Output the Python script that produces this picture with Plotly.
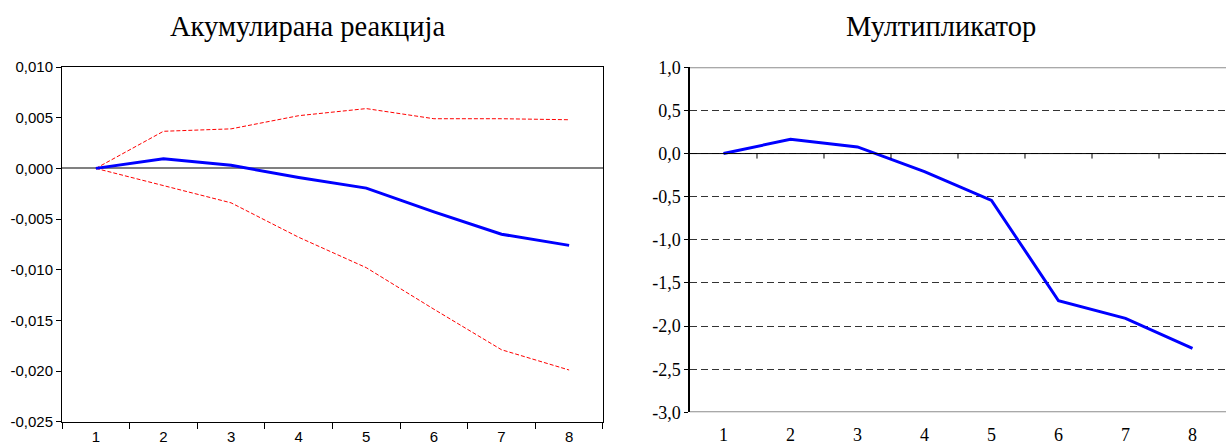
import plotly.graph_objects as go

# Horizon (periods)
periods = ["1", "2", "3", "4", "5", "6", "7", "8"]

# Accumulated response with confidence bands
response = [0.0, 0.00096, 0.0003, -0.0009, -0.00195, -0.0043, -0.0065, -0.0076]
upper_band = [0.0, 0.00366, 0.0039, 0.0052, 0.0059, 0.0049, 0.0049, 0.0048]
lower_band = [0.0, -0.00168, -0.0034, -0.0068, -0.0098, -0.0139, -0.0179, -0.0199]

# Multiplier
multiplier = [0.0, 0.166, 0.077, -0.21, -0.543, -1.706, -1.91, -2.26]

left_yvals = [0.010, 0.005, 0.0, -0.005, -0.010, -0.015, -0.020, -0.025]
left_ylabels = ["0,010", "0,005", "0,000", "-0,005", "-0,010", "-0,015", "-0,020", "-0,025"]
right_yvals = [1.0, 0.5, 0.0, -0.5, -1.0, -1.5, -2.0, -2.5, -3.0]
right_ylabels = ["1,0", "0,5", "0,0", "-0,5", "-1,0", "-1,5", "-2,0", "-2,5", "-3,0"]

titles = ["Акумулирана реакција", "Мултипликатор"]

x_num = list(range(1, len(periods) + 1))

fig = go.Figure()

fig.add_trace(go.Scatter(x=periods, y=upper_band, mode="lines",
                         line=dict(color="#ff0000", width=1, dash="4px,2px"),
                         xaxis="x", yaxis="y", showlegend=False))
fig.add_trace(go.Scatter(x=periods, y=lower_band, mode="lines",
                         line=dict(color="#ff0000", width=1, dash="4px,2px"),
                         xaxis="x", yaxis="y", showlegend=False))
fig.add_trace(go.Scatter(x=periods, y=response, mode="lines",
                         line=dict(color="#0000ff", width=3),
                         xaxis="x", yaxis="y", showlegend=False))

fig.add_trace(go.Scatter(x=x_num, y=multiplier, mode="lines",
                         line=dict(color="#0000ff", width=3),
                         xaxis="x2", yaxis="y2", showlegend=False))

sans = "Liberation Sans"
serif = "Liberation Serif"

shapes = []
# Tick marks on the zero line of the multiplier panel, between periods
for k in x_num[:-1]:
    shapes.append(dict(type="line", xref="x2", yref="y2", x0=k + 0.5, x1=k + 0.5,
                       ysizemode="pixel", yanchor=0, y0=0, y1=-5,
                       line=dict(color="black", width=1)))
# Zero line of the multiplier panel
shapes.append(dict(type="line", xref="x2 domain", yref="y2", x0=0, x1=1, y0=0, y1=0,
                   line=dict(color="black", width=1), layer="above"))
# Solid top and bottom frame lines of the multiplier panel
for yv in (right_yvals[0], right_yvals[-1]):
    shapes.append(dict(type="line", xref="x2 domain", yref="y2", x0=0, x1=1, y0=yv, y1=yv,
                       line=dict(color="#8c8c8c", width=2), layer="above"))

fig.update_layout(
    width=1226, height=447,
    margin=dict(l=0, r=0, t=0, b=0, autoexpand=False),
    paper_bgcolor="white", plot_bgcolor="white",
    shapes=shapes,
    xaxis=dict(domain=[0.0506, 0.4918], type="category", range=[-0.5, 7.5],
               tickson="boundaries", ticks="outside", ticklen=6, tickcolor="black",
               showline=True, linecolor="black", linewidth=1, mirror=True,
               showgrid=False, zeroline=False, ticklabelstandoff=1, automargin=False,
               tickfont=dict(family=sans, size=15, color="black"), anchor="y"),
    yaxis=dict(domain=[0.0566, 0.850], range=[-0.025, 0.010],
               tickmode="array", tickvals=left_yvals, ticktext=left_ylabels,
               ticks="outside", ticklen=5, tickcolor="black",
               showline=True, linecolor="black", linewidth=1, mirror=True,
               showgrid=False, zeroline=True, zerolinecolor="#808080", zerolinewidth=1.5,
               automargin=False,
               tickfont=dict(family=sans, size=15, color="black"), anchor="x"),
    xaxis2=dict(domain=[0.5628, 1.0], range=[0.5, 8.5],
                tickmode="array", tickvals=x_num, ticktext=periods,
                ticks="", showline=False, showgrid=False, zeroline=False,
                ticklabelstandoff=10, automargin=False,
                tickfont=dict(family=serif, size=18, color="black"), anchor="y2"),
    yaxis2=dict(domain=[0.0776, 0.8494], range=[-3.0, 1.0],
                tickmode="array", tickvals=right_yvals, ticktext=right_ylabels,
                ticks="outside", ticklen=4, tickcolor="black",
                showline=True, linecolor="black", linewidth=1.5,
                showgrid=True, gridcolor="#333333", gridwidth=1, griddash="7px,4px",
                zeroline=False, automargin=False,
                tickfont=dict(family=serif, size=18, color="black"), anchor="x2"),
    annotations=[
        dict(text=titles[0], xref="paper", yref="paper", x=0.2512, y=0.9418,
             xanchor="center", yanchor="middle", showarrow=False,
             font=dict(family=serif, size=28.5, color="black")),
        dict(text=titles[1], xref="paper", yref="paper", x=0.7675, y=0.9418,
             xanchor="center", yanchor="middle", showarrow=False,
             font=dict(family=serif, size=28.5, color="black")),
    ],
)

fig.write_html("out.html")
